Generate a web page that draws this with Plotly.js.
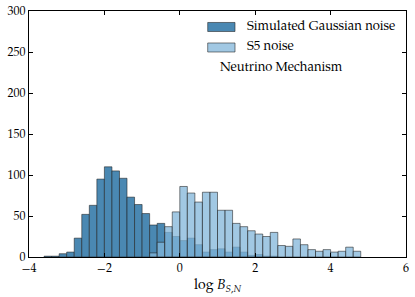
<!DOCTYPE html>
<html>
<head>
<meta charset="utf-8">
<script src="https://cdn.plot.ly/plotly-3.0.1.min.js"></script>
<style>html,body{margin:0;padding:0;background:#fff;}#chart{width:415px;height:297px;}</style>
</head>
<body>
<div id="chart"></div>
<script>
// Bin centres (bin width 0.2) and counts for the two histograms
const gaussCenters = [-3.5,-3.3,-3.1,-2.9,-2.7,-2.5,-2.3,-2.1,-1.9,-1.7,-1.5,-1.3,-1.1,-0.9,-0.7,-0.5,-0.3,-0.1,0.1,0.3,0.5,0.7,0.9,1.1,1.3,1.5,1.7,1.9,2.1,2.3,2.5];
const gaussCounts  = [1,1,4,6,23,52,63,95,110,105,96,73,64,53,39,41,30,25,20,23,15,6,9,10,6,12,6,2,3,1,1];

const s5Centers = [-0.7,-0.5,-0.3,-0.1,0.1,0.3,0.5,0.7,0.9,1.1,1.3,1.5,1.7,1.9,2.1,2.3,2.5,2.7,2.9,3.1,3.3,3.5,3.7,3.9,4.1,4.3,4.5,4.7];
const s5Counts  = [5,18,37,55,86,78,67,79,79,57,57,41,37,32,28,25,30,14,13,22,15,9,7,9,6,7,12,7];

const binWidth = 0.2;
const seriesNames = ["Simulated Gaussian noise", "S5 noise"];
const annotationText = "Neutrino Mechanism";
const xTicks = [-4,-2,0,2,4,6];
const yTicks = [0,50,100,150,200,250,300];

const font = "'TeX Gyre Pagella','Palatino Linotype',Palatino,'Liberation Serif',serif";
const darkColor = "#4a88b2";
const lightColor = "rgba(130,181,218,0.75)";
const edge = "rgba(30,30,30,0.55)";

const traces = [
  {type:"bar", x:gaussCenters, y:gaussCounts, width:binWidth, name:seriesNames[0],
   marker:{color:darkColor, line:{color:edge, width:1}}, showlegend:false},
  {type:"bar", x:s5Centers, y:s5Counts, width:binWidth, name:seriesNames[1],
   marker:{color:lightColor, line:{color:edge, width:1}}, showlegend:false}
];

const axisCommon = {showline:true, mirror:"ticks", linecolor:"#000", linewidth:1,
  ticks:"inside", ticklen:4, tickcolor:"#000", tickwidth:1, showgrid:false, zeroline:false,
  tickfont:{family:font, size:12, color:"#000"}};

const layout = {
  width:415, height:297,
  margin:{l:29, r:9, t:11, b:40},
  paper_bgcolor:"#fff", plot_bgcolor:"#fff",
  barmode:"overlay", bargap:0,
  font:{family:font, color:"#000"},
  xaxis:Object.assign({}, axisCommon, {range:[-4,6], tickvals:xTicks, ticktext:xTicks.map(v=>v<0?"\u2212"+Math.abs(v):String(v)),
    title:{text:"log <i>B</i><sub><i>S,N</i></sub>", font:{family:font, size:14, color:"#000"}, standoff:4}}),
  yaxis:Object.assign({}, axisCommon, {range:[0,300], tickvals:yTicks, ticklabelstandoff:0}),
  shapes:[
    {type:"rect", xref:"x", yref:"y", x0:0.74, x1:1.465, y0:275, y1:286, fillcolor:darkColor, line:{color:edge, width:1}},
    {type:"rect", xref:"x", yref:"y", x0:0.74, x1:1.465, y0:250, y1:261, fillcolor:lightColor, line:{color:edge, width:1}}
  ],
  annotations:[
    {xref:"x", yref:"y", x:1.72, y:280.5, text:seriesNames[0], showarrow:false, xanchor:"left", yanchor:"middle", font:{family:font, size:13, color:"#000"}},
    {xref:"x", yref:"y", x:1.72, y:255.5, text:seriesNames[1], showarrow:false, xanchor:"left", yanchor:"middle", font:{family:font, size:13, color:"#000"}},
    {xref:"x", yref:"y", x:1.0, y:230.5, text:annotationText, showarrow:false, xanchor:"left", yanchor:"middle", font:{family:font, size:13, color:"#000"}}
  ]
};

Plotly.newPlot("chart", traces, layout, {displayModeBar:false, staticPlot:true});
</script>
</body>
</html>
